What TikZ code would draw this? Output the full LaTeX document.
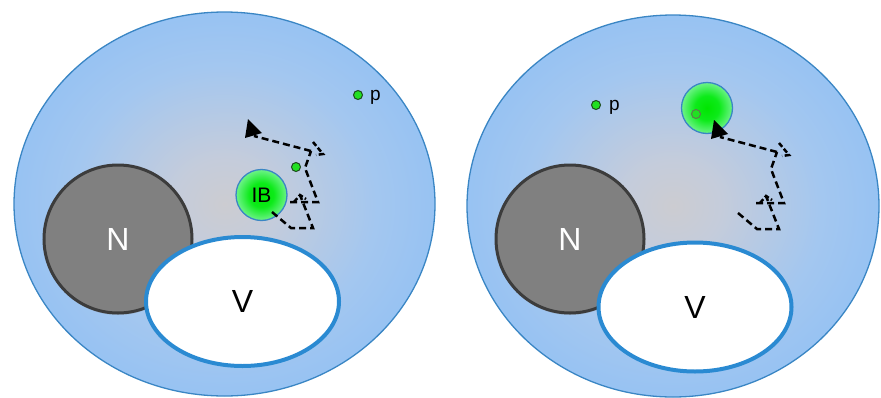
\documentclass[tikz,border=0pt]{standalone}
\usepackage{fontspec}
\setmainfont{Liberation Sans}
\usetikzlibrary{shapes.geometric,shadows}

\definecolor{cellrim}{HTML}{3A86C4}
\definecolor{vrim}{HTML}{2A8AD2}
\definecolor{nfill}{HTML}{808080}
\definecolor{nrim}{HTML}{3C3C3C}
\definecolor{dotfill}{HTML}{22E022}
\definecolor{dotrim}{HTML}{1E4A1E}
\definecolor{dotrimsoft}{HTML}{5E7A4E}
\definecolor{glowrim}{HTML}{3A86C4}

% cytoplasm: pale grey centre, saturated blue ring, lighter rim
\pgfdeclareradialshading{cellbg}{\pgfpoint{0bp}{0bp}}{%
  rgb(0bp)=(.80,.80,.82);
  rgb(6bp)=(.77,.80,.86);
  rgb(18bp)=(.64,.78,.94);
  rgb(30bp)=(.56,.75,.96);
  rgb(40bp)=(.60,.78,.97);
  rgb(47bp)=(.71,.85,.98);
  rgb(50bp)=(.77,.88,.99);
  rgb(100bp)=(.77,.88,.99)}

% green inclusion body: bright core fading to a pale mint rim
\pgfdeclareradialshading{ibglow}{\pgfpoint{0bp}{0bp}}{%
  rgb(0bp)=(0,.90,0);
  rgb(12bp)=(.05,.92,.10);
  rgb(24bp)=(.40,.95,.50);
  rgb(36bp)=(.74,.98,.80);
  rgb(50bp)=(.91,.99,.93);
  rgb(100bp)=(.91,.99,.93)}

\tikzset{
  cell/.style={ellipse, draw=cellrim, line width=1.3pt, shading=cellbg, inner sep=0pt},
  nucleus/.style={circle, fill=nfill, draw=nrim, line width=3pt, minimum size=148pt,
    inner sep=0pt, text=white, font=\fontsize{32}{35}\selectfont,
    drop shadow={shadow xshift=0pt, shadow yshift=-2pt, opacity=.25}},
  vacuole/.style={ellipse, fill=white, draw=vrim, line width=4pt, minimum width=193pt,
    minimum height=129pt, inner sep=0pt, font=\fontsize{32}{35}\selectfont},
  body/.style={circle, shading=ibglow, draw=glowrim, line width=1.3pt, minimum size=51pt,
    inner sep=0pt, font=\fontsize{21}{23}\selectfont},
  particle/.style={circle, fill=dotfill, draw=dotrim, line width=1pt, minimum size=9pt, inner sep=0pt},
  plabel/.style={anchor=base west, inner sep=0pt, font=\fontsize{19}{21}\selectfont},
  walkline/.style={line width=2.5pt, dash pattern=on 7pt off 4pt},
  tickline/.style={line width=2.5pt, dash pattern=on 5pt off 2.5pt},
  walk/.pic={
    \coordinate (s0) at (272,212);
    \coordinate (s1) at (291,228);
    \coordinate (s2) at (313,228);
    \coordinate (s3) at (300,195);
    \coordinate (a1) at (294,202);
    \coordinate (a2) at (306,199);
    \coordinate (h0) at (290,202);
    \coordinate (h1) at (318,202);
    \coordinate (h2) at (305,168);
    \coordinate (h3) at (311,151);
    \coordinate (b1) at (313,142);
    \coordinate (bt) at (323,154);
    \coordinate (b2) at (316,155);
    \coordinate (e0) at (254,136);
    \coordinate (t1) at (248,119);
    \coordinate (t2) at (245,138);
    \coordinate (t3) at (262,133);
    \draw[walkline] (s0) -- (s1) -- (s2) -- (s3);
    \draw[tickline] (a1) -- (s3) -- (a2);
    \draw[walkline] (h0) -- (h1) -- (h2) -- (h3);
    \draw[tickline] (b1) -- (bt) -- (b2);
    \draw[walkline] (h3) -- (e0);
    \fill (t1) -- (t2) -- (t3) -- cycle;
  }
}

\begin{document}
\begin{tikzpicture}[x=1pt, y=-1pt]
\useasboundingbox (0,0) rectangle (881,397);

% ---- left cell: inclusion body in the middle of its walk ----
\node[cell, minimum width=421pt, minimum height=384pt] (cellL) at (224.5,204) {};
\node[nucleus] (nucL) at (118,239) {N};
\node[vacuole] (vacL) at (242.5,301.5) {V};
\node[body] (ibL) at (261.5,195) {IB};
\node[particle] (pL) at (358,95) {};
\node[plabel] (pLtxt) at (370,100) {p};
\node[particle] (qL) at (296,167) {};
\pic (walkL) at (0,0) {walk};

% ---- right cell: inclusion body has moved and taken up a particle ----
\node[cell, minimum width=412pt, minimum height=382pt] (cellR) at (673,206) {};
\node[nucleus] (nucR) at (570,239) {N};
\node[vacuole] (vacR) at (695,307) {V};
\node[body] (ibR) at (707,108) {};
\node[particle, draw=dotrimsoft] (qR) at (696,114) {};
\node[particle] (pR) at (596,105) {};
\node[plabel] (pRtxt) at (609,110) {p};
\pic (walkR) at (466,1) {walk};
\end{tikzpicture}
\end{document}
